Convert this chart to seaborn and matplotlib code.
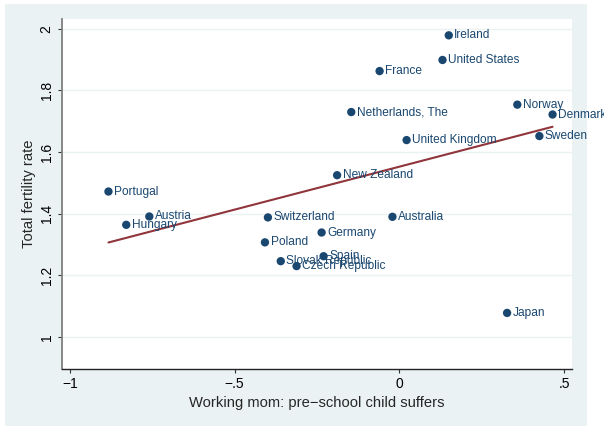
import numpy as np
import pandas as pd
import matplotlib
matplotlib.use("Agg")
import matplotlib.pyplot as plt
import seaborn as sns

# values
countries = ["Ireland", "United States", "France", "Netherlands, The", "Norway",
             "Denmark", "United Kingdom", "Sweden", "New Zealand", "Portugal",
             "Austria", "Hungary", "Switzerland", "Australia", "Germany",
             "Poland", "Spain", "Slovak Republic", "Czech Republic", "Japan"]
mom_suffers = [0.150, 0.131, -0.060, -0.146, 0.358,
               0.465, 0.022, 0.425, -0.189, -0.883,
               -0.759, -0.829, -0.399, -0.021, -0.236,
               -0.408, -0.230, -0.360, -0.312, 0.327]
fertility = [1.979, 1.899, 1.863, 1.730, 1.754,
             1.722, 1.639, 1.652, 1.525, 1.472,
             1.391, 1.364, 1.388, 1.390, 1.339,
             1.307, 1.262, 1.246, 1.230, 1.078]
xticks = [-1, -0.5, 0, 0.5]
xticklabels = ["\u22121", "\u2212.5", "0", ".5"]
yticks = [1, 1.2, 1.4, 1.6, 1.8, 2]
yticklabels = ["1", "1.2", "1.4", "1.6", "1.8", "2"]

df = pd.DataFrame({"country": countries, "x": mom_suffers, "y": fertility})

navy = "#1a476f"
maroon = "#90353b"
bg = "#eaf2f3"

sns.set_style("white")
plt.rcParams["font.family"] = ["Liberation Sans", "DejaVu Sans"]

fig = plt.figure(figsize=(6.04, 4.26), dpi=100)
fig.patch.set_facecolor("white")
# outer light panel like Stata's s2color scheme
fig.patches.append(plt.Rectangle((5 / 604, 0), 582 / 604, 422 / 426,
                                 transform=fig.transFigure, facecolor=bg,
                                 edgecolor="none", zorder=-10))
ax = fig.add_axes([62 / 604, 57 / 426, 510 / 604, 350 / 426])
ax.set_facecolor("white")

for yv in yticks:
    ax.axhline(yv, color=bg, lw=1.0, zorder=0)

sns.regplot(data=df, x="x", y="y", scatter=False, ci=None, ax=ax,
            line_kws={"color": maroon, "lw": 1.5})
sns.scatterplot(data=df, x="x", y="y", ax=ax, color=navy, s=36,
                edgecolor="none", zorder=3)
for _, r in df.iterrows():
    ax.annotate(r["country"], (r["x"], r["y"]), xytext=(4, 0),
                textcoords="offset points", va="center", ha="left",
                fontsize=8.6, color=navy, zorder=4, annotation_clip=False)

ax.set_xlim(-1.024, 0.524)
ax.set_ylim(0.896, 2.032)
ax.set_xticks(xticks)
ax.set_xticklabels(xticklabels)
ax.set_yticks(yticks)
ax.set_yticklabels(yticklabels, rotation=90, va="center")
ax.tick_params(axis="both", direction="out", length=3, width=0.8,
               labelsize=10, color="#333333", labelcolor="black", pad=3)
ax.tick_params(left=True, bottom=True)

for side in ["top", "right"]:
    ax.spines[side].set_visible(False)
ax.spines["left"].set_color("#7f7f7f")
ax.spines["left"].set_linewidth(1.3)
ax.spines["bottom"].set_color("#222222")
ax.spines["bottom"].set_linewidth(1.0)

ax.set_xlabel("Working mom: pre\u2212school child suffers", fontsize=10.6, labelpad=3)
ax.set_ylabel("Total fertility rate", fontsize=10.6, labelpad=3)

fig.savefig("out.png", dpi=100)
